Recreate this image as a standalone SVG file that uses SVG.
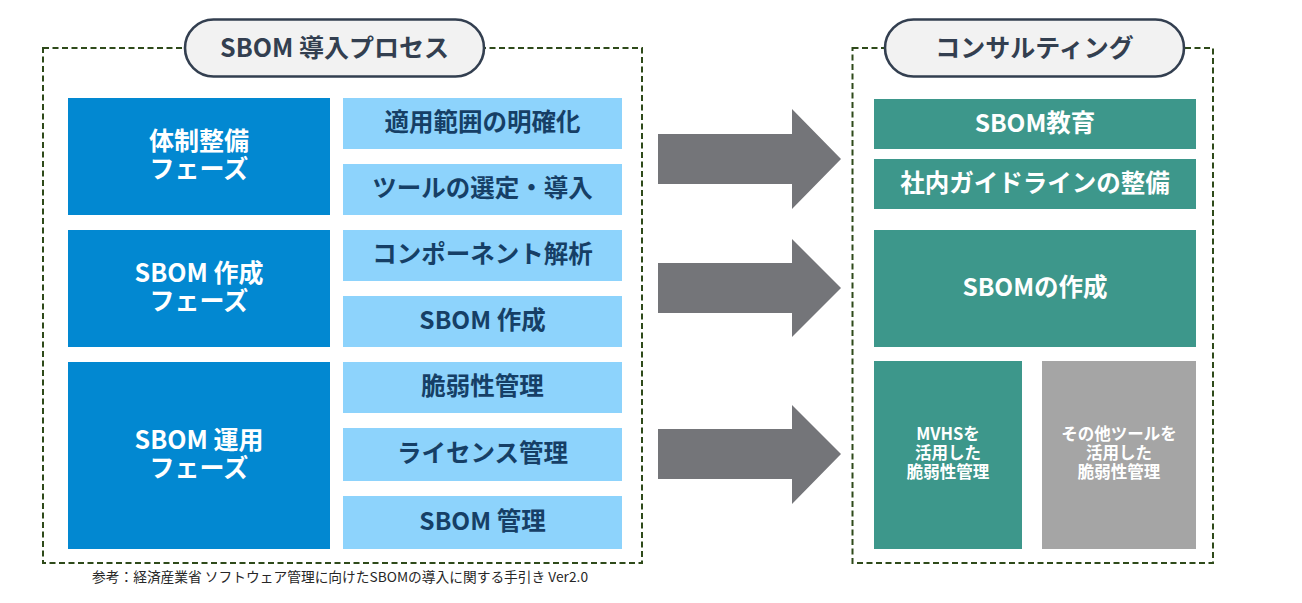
<svg xmlns="http://www.w3.org/2000/svg" width="1302" height="603" viewBox="0 0 1302 603">
  <style>
    text { font-family: "Noto Sans CJK JP", "Noto Sans", sans-serif; font-weight: bold; text-anchor: middle; dominant-baseline: central; }
    .frame { fill: none; stroke: #2E4A1A; stroke-width: 2; stroke-dasharray: 6 3.5; }
    .pill { fill: #F2F2F2; stroke: #333F50; stroke-width: 2.6; }
    .pill-t { fill: #333F50; font-size: 25px; }
    .phase { fill: #0288D1; }
    .phase-t { fill: #FFFFFF; font-size: 25px; }
    .step { fill: #8DD3FC; }
    .step-t { fill: #163F66; font-size: 24.5px; }
    .teal { fill: #3D978B; }
    .gray { fill: #A5A5A5; }
    .svc-t { fill: #FFFFFF; font-size: 24.5px; }
    .small-t { fill: #FFFFFF; font-size: 16.5px; }
    .arrow { fill: #747579; }
    .note { fill: #262626; font-weight: normal; font-size: 13.5px; text-anchor: start; dominant-baseline: alphabetic; }
  </style>

  <!-- Left frame: SBOM 導入プロセス -->
  <g id="frame-process">
    <rect class="frame" x="43" y="48" width="599" height="515"/>
    <rect class="pill" x="185" y="19.5" width="299" height="57" rx="28.5" ry="28.5"/>
    <text class="pill-t" x="334.5" y="45.5">SBOM 導入プロセス</text>
  </g>

  <!-- Right frame: コンサルティング -->
  <g id="frame-consulting">
    <rect class="frame" x="852.5" y="48" width="360.5" height="515"/>
    <rect class="pill" x="885" y="19.5" width="299" height="57" rx="28.5" ry="28.5"/>
    <text class="pill-t" x="1034.5" y="45.5">コンサルティング</text>
  </g>

  <!-- Phases -->
  <g id="phase-taisei">
    <rect class="phase" x="68" y="98" width="262" height="117"/>
    <text class="phase-t"><tspan x="199" y="139">体制整備</tspan><tspan x="199" y="167">フェーズ</tspan></text>
  </g>
  <g id="phase-sakusei">
    <rect class="phase" x="68" y="230" width="262" height="117"/>
    <text class="phase-t"><tspan x="199" y="271">SBOM 作成</tspan><tspan x="199" y="299">フェーズ</tspan></text>
  </g>
  <g id="phase-unyo">
    <rect class="phase" x="68" y="362" width="262" height="187"/>
    <text class="phase-t"><tspan x="199" y="438">SBOM 運用</tspan><tspan x="199" y="466">フェーズ</tspan></text>
  </g>

  <!-- Steps -->
  <g id="step-scope">
    <rect class="step" x="343" y="98" width="279" height="51"/>
    <text class="step-t" x="482.5" y="120.5">適用範囲の明確化</text>
  </g>
  <g id="step-tool">
    <rect class="step" x="343" y="164" width="279" height="51"/>
    <text class="step-t" x="482.5" y="186.5">ツールの選定・導入</text>
  </g>
  <g id="step-component">
    <rect class="step" x="343" y="230" width="279" height="51"/>
    <text class="step-t" x="482.5" y="252.5">コンポーネント解析</text>
  </g>
  <g id="step-create">
    <rect class="step" x="343" y="296" width="279" height="51"/>
    <text class="step-t" x="482.5" y="318.5">SBOM 作成</text>
  </g>
  <g id="step-vuln">
    <rect class="step" x="343" y="362" width="279" height="51"/>
    <text class="step-t" x="482.5" y="384.5">脆弱性管理</text>
  </g>
  <g id="step-license">
    <rect class="step" x="343" y="428" width="279" height="53"/>
    <text class="step-t" x="482.5" y="451.5">ライセンス管理</text>
  </g>
  <g id="step-manage">
    <rect class="step" x="343" y="496" width="279" height="53"/>
    <text class="step-t" x="482.5" y="519.5">SBOM 管理</text>
  </g>

  <!-- Consulting services -->
  <g id="svc-education">
    <rect class="teal" x="874" y="99" width="322" height="50"/>
    <text class="svc-t" x="1035" y="121">SBOM教育</text>
  </g>
  <g id="svc-guideline">
    <rect class="teal" x="874" y="159" width="322" height="50"/>
    <text class="svc-t" x="1035" y="181">社内ガイドラインの整備</text>
  </g>
  <g id="svc-create">
    <rect class="teal" x="874" y="230" width="322" height="117"/>
    <text class="svc-t" x="1035" y="285.5">SBOMの作成</text>
  </g>
  <g id="svc-mvhs">
    <rect class="teal" x="874" y="361" width="148" height="188"/>
    <text class="small-t"><tspan x="948" y="433">MVHSを</tspan><tspan x="948" y="452">活用した</tspan><tspan x="948" y="471">脆弱性管理</tspan></text>
  </g>
  <g id="svc-other">
    <rect class="gray" x="1042" y="361" width="154" height="188"/>
    <text class="small-t"><tspan x="1119" y="433">その他ツールを</tspan><tspan x="1119" y="452">活用した</tspan><tspan x="1119" y="471">脆弱性管理</tspan></text>
  </g>

  <!-- Connectors -->
  <g id="connectors">
    <polygon class="arrow" points="658,134 792,134 792,109 841,159 792,209 792,184 658,184"/>
    <polygon class="arrow" points="658,263 792,263 792,239 841,288 792,337 792,313 658,313"/>
    <polygon class="arrow" points="658,429 792,429 792,405 841,454 792,504 792,479 658,479"/>
  </g>

  <text class="note" x="92" y="582" textLength="496" lengthAdjust="spacingAndGlyphs">参考：経済産業省 ソフトウェア管理に向けたSBOMの導入に関する手引き Ver2.0</text>
</svg>
